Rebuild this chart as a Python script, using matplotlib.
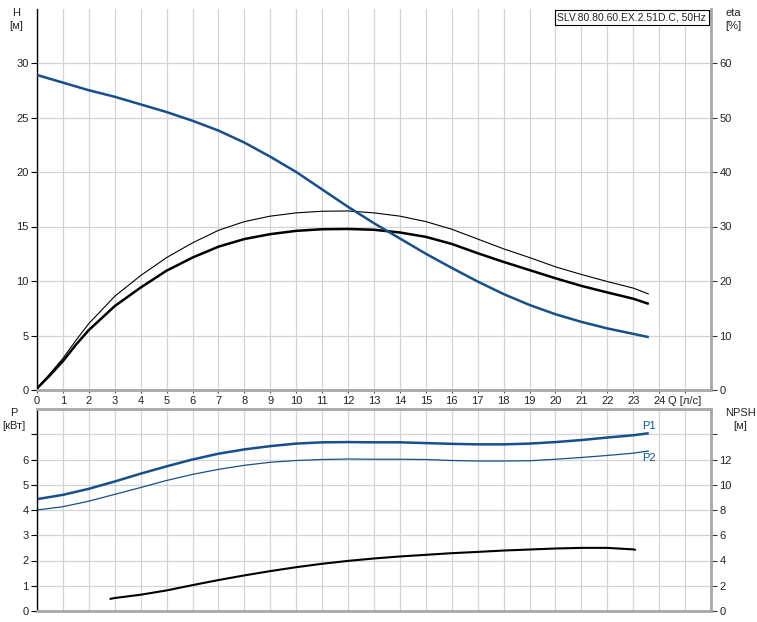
import matplotlib
matplotlib.use("Agg")
import matplotlib.pyplot as plt

plt.rcParams['font.family'] = ['Liberation Sans', 'DejaVu Sans']

# ---------------- data ----------------
q_h = [0, 1, 2, 3, 4, 5, 6, 7, 8, 9, 10, 11, 12, 13, 14, 15, 16, 17, 18, 19, 20, 21, 22, 23, 23.6]
head = [28.9, 28.2, 27.5, 26.9, 26.2, 25.5, 24.7, 23.8, 22.7, 21.4, 20.0, 18.4, 16.8, 15.3, 13.9,
        12.5, 11.2, 9.95, 8.8, 7.8, 6.95, 6.25, 5.65, 5.15, 4.85]

q_eta = [0, 0.5, 1, 1.5, 2, 3, 4, 5, 6, 7, 8, 9, 10, 11, 12, 13, 14, 15, 16, 17, 18, 19, 20, 21, 22, 23, 23.6]
eta_thin = [0.3, 3.0, 5.8, 9.1, 12.2, 17.2, 21.0, 24.3, 27.0, 29.3, 30.9, 31.9, 32.5, 32.8, 32.85, 32.5,
            31.9, 30.9, 29.5, 27.7, 25.9, 24.3, 22.6, 21.2, 19.9, 18.7, 17.6]
eta_thick = [0.3, 2.7, 5.3, 8.3, 11.0, 15.4, 18.8, 21.9, 24.3, 26.3, 27.7, 28.6, 29.2, 29.5, 29.55, 29.4,
             28.9, 28.1, 26.8, 25.1, 23.5, 22.0, 20.5, 19.1, 17.9, 16.75, 15.8]

q_p = [0, 1, 2, 3, 4, 5, 6, 7, 8, 9, 10, 11, 12, 13, 14, 15, 16, 17, 18, 19, 20, 21, 22, 23, 23.6]
p1 = [4.43, 4.6, 4.84, 5.13, 5.44, 5.73, 6.0, 6.23, 6.40, 6.53, 6.63, 6.68, 6.69, 6.68, 6.68,
      6.65, 6.62, 6.6, 6.6, 6.63, 6.69, 6.77, 6.87, 6.96, 7.04]
p2 = [4.0, 4.13, 4.35, 4.62, 4.89, 5.17, 5.41, 5.61, 5.77, 5.89, 5.96, 6.0, 6.02, 6.01, 6.01,
      6.0, 5.96, 5.94, 5.94, 5.95, 6.01, 6.08, 6.16, 6.25, 6.34]

q_npsh = [2.8, 3, 4, 5, 6, 7, 8, 9, 10, 11, 12, 13, 14, 15, 16, 17, 18, 19, 20, 21, 22, 23, 23.1]
npsh = [0.95, 1.03, 1.29, 1.63, 2.05, 2.45, 2.82, 3.16, 3.47, 3.74, 3.97, 4.16, 4.32, 4.45, 4.58,
        4.68, 4.79, 4.87, 4.95, 5.0, 5.0, 4.88, 4.84]

x_ticks = list(range(0, 26))
x_labels = [str(v) for v in range(0, 25)] + ['Q [л/с]']
h_ticks = [0, 5, 10, 15, 20, 25, 30]
eta_ticks = [0, 10, 20, 30, 40, 50, 60]
p_ticks = [0, 1, 2, 3, 4, 5, 6, 7]
p_labels = ['0', '1', '2', '3', '4', '5', '6', '']
npsh_ticks = [0, 2, 4, 6, 8, 10, 12, 14]
npsh_labels = ['0', '2', '4', '6', '8', '10', '12', '']
title_text = 'SLV.80.80.60.EX.2.51D.C, 50Hz'

# ---------------- style ----------------
W, H = 757, 622
BLUE = '#174f8a'
GRID = '#d4d4d4'
SPG = '#a8a8a8'
TXT = '#222222'
FS = 8

fig = plt.figure(figsize=(W / 100, H / 100), dpi=100)
fig.patch.set_facecolor('white')


def rect(l, t, r, b):
    return [l / W, 1 - b / H, (r - l) / W, (b - t) / H]


ax1 = fig.add_axes(rect(37, 8.5, 711, 390))
ax1r = ax1.twinx()
ax2 = fig.add_axes(rect(37, 409, 711, 611))
ax2r = ax2.twinx()

for a in (ax1, ax2):
    a.set_xlim(0, 26)
    a.set_xticks(x_ticks)
    a.grid(True, color=GRID, lw=0.9)
    a.set_axisbelow(True)
    a.tick_params(axis='x', length=2.5, width=0.8, color='#555555', labelsize=FS, pad=2,
                  labelcolor=TXT)
    a.tick_params(axis='y', length=4, width=0.8, color='black', labelsize=FS, pad=2,
                  labelcolor=TXT)

ax1.set_xticklabels(x_labels)
ax2.set_xticklabels([])
ax2.tick_params(axis='x', length=0)

ax1.set_ylim(0, 35)
ax1.set_yticks(h_ticks)
ax1r.set_ylim(0, 70)
ax1r.set_yticks(eta_ticks)
ax2.set_ylim(0, 8)
ax2.set_yticks(p_ticks)
ax2.set_yticklabels(p_labels)
ax2r.set_ylim(0, 16)
ax2r.set_yticks(npsh_ticks)
ax2r.set_yticklabels(npsh_labels)
for a in (ax1r, ax2r):
    a.tick_params(axis='y', length=4, width=0.8, color='#333333', labelsize=FS, pad=2,
                  labelcolor=TXT)

# spines
for a in (ax1, ax1r, ax2, ax2r):
    for s in a.spines.values():
        s.set_visible(False)
for a in (ax1, ax2):
    a.spines['left'].set_visible(True)
    a.spines['left'].set_color('black')
    a.spines['left'].set_linewidth(1.0)
    a.spines['bottom'].set_visible(True)
    a.spines['bottom'].set_color(SPG)
    a.spines['bottom'].set_linewidth(2.0)
for a in (ax1r, ax2r):
    a.spines['right'].set_visible(True)
    a.spines['right'].set_color(SPG)
    a.spines['right'].set_linewidth(2.0)
ax2.spines['top'].set_visible(True)
ax2.spines['top'].set_color(SPG)
ax2.spines['top'].set_linewidth(2.0)

# curves
kw = dict(solid_capstyle='butt', solid_joinstyle='round')
ax1r.plot(q_eta, eta_thin, color='black', lw=0.8, **kw)
ax1r.plot(q_eta, eta_thick, color='black', lw=1.8, **kw)
ax1r.plot(q_h, [v * 2 for v in head], color=BLUE, lw=1.8, **kw)

ax2.plot(q_p, p1, color=BLUE, lw=1.8, **kw)
ax2.plot(q_p, p2, color=BLUE, lw=0.9, **kw)
ax2r.plot(q_npsh, npsh, color='black', lw=1.5, **kw)

ax2.text(q_p[-1], p1[-1] + 0.08, 'P1', color=BLUE, fontsize=FS, ha='center', va='bottom')
ax2.text(q_p[-1], p2[-1] - 0.1, 'P2', color=BLUE, fontsize=FS, ha='center', va='top')

# axis titles
def ftxt(px, py, s, **kw):
    fig.text(px / W, 1 - py / H, s, fontsize=FS, ha='center', va='center', color=TXT, **kw)

ftxt(16, 13, 'H')
ftxt(16, 26, '[м]')
ftxt(733, 13, 'eta')
ftxt(733, 26, '[%]')
ftxt(14, 413, 'P')
ftxt(14, 426, '[кВт]')
ftxt(740, 413, 'NPSH')
ftxt(740, 426, '[м]')

fig.text(706 / W, 1 - 17.5 / H, title_text, fontsize=7.5, ha='right', va='center', color=TXT,
         bbox=dict(boxstyle='square,pad=0.25', facecolor='white', edgecolor='black', lw=0.8))

fig.savefig('out.png', dpi=100, facecolor='white')
